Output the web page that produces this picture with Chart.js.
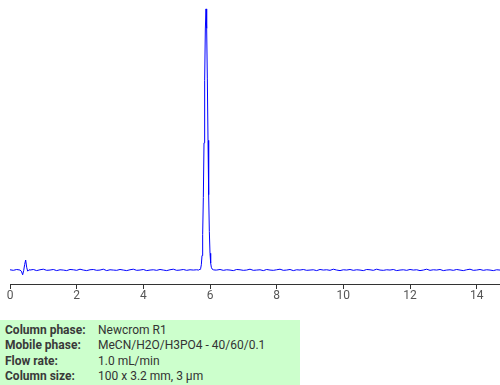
<!DOCTYPE html>
<html>
<head>
<meta charset="utf-8">
<script src="https://cdn.jsdelivr.net/npm/chart.js@4"></script>
<style>
    body { margin: 0; background: #fff; width: 500px; height: 385px; overflow: hidden; position: relative; font-family: Roboto, sans-serif; }
    #wrap { position: absolute; left: 0; top: 0; width: 500px; height: 310px; }
    #info { position: absolute; left: 0; top: 320px; width: 300px; height: 65px; background: #ccffcc; font-size: 12px; color: #333; }
    #info .row { position: absolute; left: 5px; height: 15px; line-height: 15px; white-space: nowrap; }
    #info .lbl { display: inline-block; width: 93px; font-weight: bold; color: #3a3a3a; }
</style>
</head>
<body>
<div id="wrap"><canvas id="chart" width="500" height="310"></canvas></div>
<div id="info"></div>
<script>
// retention time (min)
const times = [
    0.0, 0.1, 0.2, 0.3,
    0.34, 0.38, 0.41, 0.44, 0.47, 0.50, 0.53, 0.57,
    0.6, 0.7, 0.8, 0.9, 1.0, 1.1, 1.2, 1.3, 1.4, 1.5,
    1.6, 1.7, 1.8, 1.9, 2.0, 2.1, 2.2, 2.3, 2.4, 2.5,
    2.6, 2.7, 2.8, 2.9, 3.0, 3.1, 3.2, 3.3, 3.4, 3.5,
    3.6, 3.7, 3.8, 3.9, 4.0, 4.1, 4.2, 4.3, 4.4, 4.5,
    4.6, 4.7, 4.8, 4.9, 5.0, 5.1, 5.2, 5.3, 5.4, 5.5,
    5.6,
    5.66, 5.70, 5.72, 5.74, 5.76, 5.78, 5.80, 5.82, 5.84, 5.86, 5.88,
    5.90, 5.92, 5.94, 5.96, 5.98, 6.00, 6.02, 6.04, 6.06, 6.10, 6.15,
    6.2, 6.3, 6.4, 6.5, 6.6, 6.7, 6.8, 6.9, 7.0, 7.1,
    7.2, 7.3, 7.4, 7.5, 7.6, 7.7, 7.8, 7.9, 8.0, 8.1,
    8.2, 8.3, 8.4, 8.5, 8.6, 8.7, 8.8, 8.9, 9.0, 9.1,
    9.2, 9.3, 9.4, 9.5, 9.6, 9.7, 9.8, 9.9, 10.0, 10.1,
    10.2, 10.3, 10.4, 10.5, 10.6, 10.7, 10.8, 10.9, 11.0, 11.1,
    11.2, 11.3, 11.4, 11.5, 11.6, 11.7, 11.8, 11.9, 12.0, 12.1,
    12.2, 12.3, 12.4, 12.5, 12.6, 12.7, 12.8, 12.9, 13.0, 13.1,
    13.2, 13.3, 13.4, 13.5, 13.6, 13.7, 13.8, 13.9, 14.0, 14.1,
    14.2, 14.3, 14.4, 14.5, 14.6, 14.7
];

// detector signal
const signal = [
    5.1, 4.9, 5.2, 5.0,
    4.6, 3.3, 4.8, 7.0, 8.6, 6.0, 4.6, 5.1,
    5.0, 5.2, 4.8, 5.1, 5.3, 4.9, 5.0, 5.2, 4.8, 5.1,
    5.0, 4.8, 5.2, 5.1, 4.9, 5.3, 5.0, 4.8, 5.1, 5.2,
    4.9, 5.0, 5.3, 4.8, 5.1, 5.0, 4.9, 5.2, 5.0, 4.8,
    5.1, 5.3, 4.9, 5.0, 5.2, 4.8, 5.0, 5.1, 4.9, 5.2,
    5.0, 4.8, 5.1, 5.3, 4.9, 5.0, 5.2, 4.9, 5.1, 5.0,
    5.1,
    5.0, 5.3, 5.6, 6.9, 10.2, 17.7, 31.0, 50.6, 73.0, 91.4, 98.6,
    91.6, 73.5, 51.5, 32.0, 18.8, 11.0, 7.5, 6.0, 5.4, 5.1, 5.0,
    5.0, 5.2, 4.9, 5.1, 5.0, 4.8, 5.2, 5.1, 4.9, 5.0,
    5.3, 4.9, 5.0, 5.1, 4.8, 5.2, 5.0, 4.9, 5.1, 5.3,
    4.9, 5.0, 5.2, 4.8, 5.1, 5.0, 5.2, 4.9, 5.0, 5.1,
    4.8, 5.2, 5.0, 5.1, 4.9, 5.3, 5.0, 4.8, 5.1, 5.0,
    5.2, 4.9, 5.1, 5.0, 4.8, 5.2, 5.1, 4.9, 5.3, 5.0,
    4.9, 5.1, 5.0, 5.2, 4.8, 5.0, 5.1, 4.9, 5.2, 5.0,
    5.1, 4.8, 5.0, 5.3, 4.9, 5.1, 5.0, 5.2, 4.8, 5.0,
    5.1, 4.9, 5.2, 5.0, 4.8, 5.1, 5.3, 4.9, 5.0, 5.2,
    4.9, 5.1, 5.0, 4.8, 5.1, 5.0
];

const xTicks = [0, 2, 4, 6, 8, 10, 12, 14];

const infoLabels = ['Column phase:', 'Mobile phase:', 'Flow rate:', 'Column size:'];
const infoValues = ['Newcrom R1', 'MeCN/H2O/H3PO4 - 40/60/0.1', '1.0 mL/min', '100 x 3.2 mm, 3 \u00b5m'];

// conditions box
const info = document.getElementById('info');
infoLabels.forEach((lbl, i) => {
    const row = document.createElement('div');
    row.className = 'row';
    row.style.top = (3 + i * 15.3) + 'px';
    row.innerHTML = '<span class="lbl">' + lbl + '</span>' + infoValues[i];
    info.appendChild(row);
});

const points = times.map((t, i) => ({ x: t, y: signal[i] }));

var ctx = document.getElementById('chart').getContext('2d');
var chart = new Chart(ctx, {
    type: 'line',
    data: {
        datasets: [{
            data: points,
            borderColor: '#0000ff',
            borderWidth: 1,
            pointRadius: 0,
            tension: 0,
            fill: false,
        }]
    },
    options: {
        responsive: false,
        animation: false,
        layout: { padding: { left: 10, right: 0, top: 5, bottom: 0 } },
        plugins: { legend: { display: false }, tooltip: { enabled: false } },
        scales: {
            x: {
                type: 'linear',
                min: 0,
                max: 14.7,
                afterBuildTicks: (scale) => { scale.ticks = xTicks.map(v => ({ value: v })); },
                afterFit: (scale) => { scale.height = 26; },
                border: { display: true, color: '#333', width: 1 },
                grid: { drawOnChartArea: false, drawTicks: true, tickLength: 5, color: '#333' },
                ticks: { padding: 0, color: '#555', font: { family: 'Roboto', size: 12 }, maxRotation: 0 },
            },
            y: {
                display: false,
                min: 0,
                max: 100,
            }
        }
    }
});
</script>
</body>
</html>
